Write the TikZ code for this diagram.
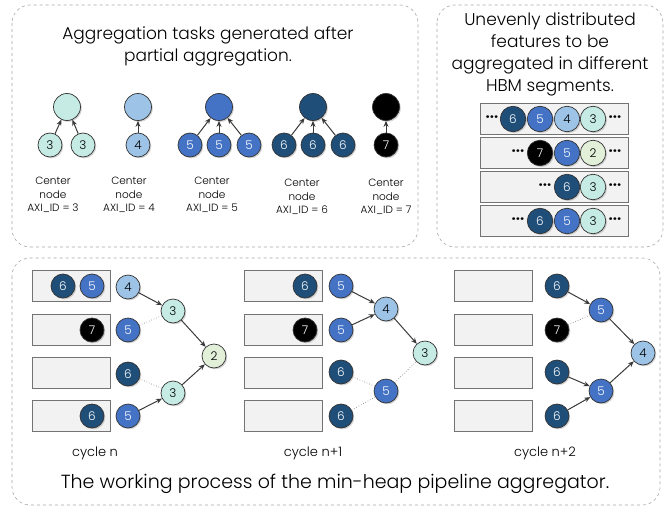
\documentclass[tikz,border=0pt]{standalone}
\usepackage{fontspec}
\setmainfont{Poppins}[UprightFont=* Light, BoldFont=* Bold]
\usetikzlibrary{arrows.meta,shadows}

\definecolor{cA}{HTML}{C5EBE4}
\definecolor{cB}{HTML}{9DC3E6}
\definecolor{cC}{HTML}{4472C4}
\definecolor{cD}{HTML}{1F4E79}
\definecolor{cE}{HTML}{E2F0D9}
\definecolor{frame}{HTML}{A6A6A6}
\definecolor{edge}{HTML}{3A3A3A}
\definecolor{slot}{HTML}{F2F2F2}

\tikzset{
  ball/.style={circle, draw=black!80, line width=0.7pt, minimum size=24pt, inner sep=0pt,
    font=\fontsize{12}{12}\selectfont,
    drop shadow={shadow xshift=1.3pt, shadow yshift=-1.3pt, opacity=0.35}},
  big/.style={minimum size=27pt},
  seg/.style={minimum size=25.5pt},
  n2/.style={ball, fill=cE},
  n3/.style={ball, fill=cA},
  n4/.style={ball, fill=cB},
  n5/.style={ball, fill=cC, text=white},
  n6/.style={ball, fill=cD, text=white},
  n7/.style={ball, fill=black, text=white},
  panel/.style={draw=frame, dashed, rounded corners=18pt, line width=0.6pt},
  slotbox/.style={draw=black!55, fill=slot, line width=0.8pt, minimum width=78pt,
    minimum height=31pt, inner sep=0pt},
  feed/.style={draw=edge, line width=1pt, -{Stealth[length=6pt,width=5pt]}},
  idle/.style={draw=black!60, dotted, line width=0.6pt},
  axilabel/.style={font=\fontsize{10.5}{13.5}\selectfont, align=center},
  head/.style={font=\fontsize{17}{22}\selectfont, align=center},
  cyc/.style={font=\fontsize{13}{13}\selectfont},
  ellip/.style={font=\bfseries\fontsize{14}{14}\selectfont, inner sep=0pt},
}

\begin{document}
\begin{tikzpicture}[x=1pt, y=-1pt]
\useasboundingbox (0,0) rectangle (668,508);

% ---------- panel frames ----------
\draw[panel] (12,5) rectangle (418,247);
\draw[panel] (437,5) rectangle (663,247);
\draw[panel] (12,258) rectangle (660,505);

% ---------- aggregation tasks ----------
\node[head] (title1) at (208,46) {Aggregation tasks generated after\\partial aggregation.};

\node[n3,big] (p3) at (67,107) {};
\node[n3] (p3a) at (50,145) {3};
\node[n3] (p3b) at (83,145) {3};
\draw[feed] (p3a) -- (p3);
\draw[feed] (p3b) -- (p3);

\node[n4,big] (p4) at (138,107) {};
\node[n4] (p4a) at (138,145) {4};
\draw[feed] (p4a) -- (p4);

\node[n5,big] (p5) at (219,107) {};
\node[n5] (p5a) at (190,145) {5};
\node[n5] (p5b) at (219,145) {5};
\node[n5] (p5c) at (249,145) {5};
\draw[feed] (p5a) -- (p5);
\draw[feed] (p5b) -- (p5);
\draw[feed] (p5c) -- (p5);

\node[n6,big] (p6) at (313,107) {};
\node[n6] (p6a) at (284,145) {6};
\node[n6] (p6b) at (313,145) {6};
\node[n6] (p6c) at (343,145) {6};
\draw[feed] (p6a) -- (p6);
\draw[feed] (p6b) -- (p6);
\draw[feed] (p6c) -- (p6);

\node[n7,big] (p7) at (386,107) {};
\node[n7] (p7a) at (386,145) {7};
\draw[feed] (p7a) -- (p7);

\node[axilabel] (l3) at (53,195) {Center\\node\\AXI\_ID = 3};
\node[axilabel] (l4) at (129,195) {Center\\node\\AXI\_ID = 4};
\node[axilabel] (l5) at (212,195) {Center\\node\\AXI\_ID = 5};
\node[axilabel] (l6) at (302,197) {Center\\node\\AXI\_ID = 6};
\node[axilabel] (l7) at (386,197) {Center\\node\\AXI\_ID = 7};

% ---------- HBM segments ----------
\node[head] (title2) at (550,54) {Unevenly distributed\\features to be\\aggregated in different\\HBM segments.};

\node[slotbox, minimum width=148pt] (seg1) at (554,118.5) {};
\node[slotbox, minimum width=148pt] (seg2) at (554,152.5) {};
\node[slotbox, minimum width=148pt] (seg3) at (554,187) {};
\node[slotbox, minimum width=148pt] (seg4) at (554,220.5) {};

\node[ellip] (s1l) at (492,119) {···};
\node[n6,seg] (s1a) at (513,119) {6};
\node[n5,seg] (s1b) at (540,119) {5};
\node[n4,seg] (s1c) at (567,119) {4};
\node[n3,seg] (s1d) at (593,119) {3};
\node[ellip] (s1r) at (615,119) {···};

\node[ellip] (s2l) at (518,153) {···};
\node[n7,seg] (s2a) at (540,153) {7};
\node[n5,seg] (s2b) at (567,153) {5};
\node[n2,seg] (s2c) at (593,153) {2};
\node[ellip] (s2r) at (615,153) {···};

\node[ellip] (s3l) at (545,187) {···};
\node[n6,seg] (s3a) at (567,187) {6};
\node[n3,seg] (s3b) at (593,187) {3};
\node[ellip] (s3r) at (615,187) {···};

\node[ellip] (s4l) at (518,221) {···};
\node[n6,seg] (s4a) at (540,221) {6};
\node[n5,seg] (s4b) at (567,221) {5};
\node[n3,seg] (s4c) at (593,221) {3};
\node[ellip] (s4r) at (615,221) {···};

% ---------- pipeline, cycle n ----------
\node[slotbox] (a1) at (71,286) {};
\node[slotbox] (a2) at (71,330) {};
\node[slotbox] (a3) at (71,373) {};
\node[slotbox] (a4) at (71,416) {};
\node[n6] (a1x) at (63,286) {6};
\node[n5] (a1y) at (92,286) {5};
\node[n7] (a2x) at (92,330) {7};
\node[n6] (a4x) at (92,416) {6};

\node[n4] (ah1) at (128,287) {4};
\node[n5] (ah2) at (128,330) {5};
\node[n6] (ah3) at (128,374) {6};
\node[n5] (ah4) at (128,416) {5};
\node[n3] (am1) at (173,311) {3};
\node[n3] (am2) at (173,393) {3};
\node[n2] (aroot) at (214,356) {2};
\draw[feed] (ah1) -- (am1);
\draw[idle] (ah2) -- (am1);
\draw[idle] (ah3) -- (am2);
\draw[feed] (ah4) -- (am2);
\draw[feed] (am1) -- (aroot);
\draw[feed] (am2) -- (aroot);
\node[cyc] (acap) at (95,453) {cycle n};

% ---------- pipeline, cycle n+1 ----------
\node[slotbox] (b1) at (283.5,286) {};
\node[slotbox] (b2) at (283.5,330) {};
\node[slotbox] (b3) at (283.5,373) {};
\node[slotbox] (b4) at (283.5,416) {};
\node[n6] (b1x) at (305,286) {6};
\node[n7] (b2x) at (305,330) {7};

\node[n5] (bh1) at (341,286) {5};
\node[n5] (bh2) at (341,330) {5};
\node[n6] (bh3) at (341,372) {6};
\node[n6] (bh4) at (341,416) {6};
\node[n4] (bm1) at (386,309) {4};
\node[n5] (bm2) at (386,391) {5};
\node[n3] (broot) at (425,353) {3};
\draw[feed] (bh1) -- (bm1);
\draw[feed] (bh2) -- (bm1);
\draw[idle] (bh3) -- (bm2);
\draw[idle] (bh4) -- (bm2);
\draw[feed] (bm1) -- (broot);
\draw[idle] (bm2) -- (broot);
\node[cyc] (bcap) at (313,453) {cycle n+1};

% ---------- pipeline, cycle n+2 ----------
\node[slotbox] (c1) at (493.5,286) {};
\node[slotbox] (c2) at (493.5,330) {};
\node[slotbox] (c3) at (493.5,373) {};
\node[slotbox] (c4) at (493.5,416) {};

\node[n6] (ch1) at (557,286) {6};
\node[n7] (ch2) at (557,330) {7};
\node[n6] (ch3) at (557,372) {6};
\node[n6] (ch4) at (557,416) {6};
\node[n5] (cm1) at (601,310) {5};
\node[n5] (cm2) at (601,391) {5};
\node[n4] (croot) at (643,353) {4};
\draw[feed] (ch1) -- (cm1);
\draw[idle] (ch2) -- (cm1);
\draw[feed] (ch3) -- (cm2);
\draw[feed] (ch4) -- (cm2);
\draw[feed] (cm1) -- (croot);
\draw[feed] (cm2) -- (croot);
\node[cyc] (ccap) at (545,453) {cycle n+2};

\node[font=\fontsize{19}{19}\selectfont] (title3) at (335,484)
  {The working process of the min-heap pipeline aggregator.};
\end{tikzpicture}
\end{document}
